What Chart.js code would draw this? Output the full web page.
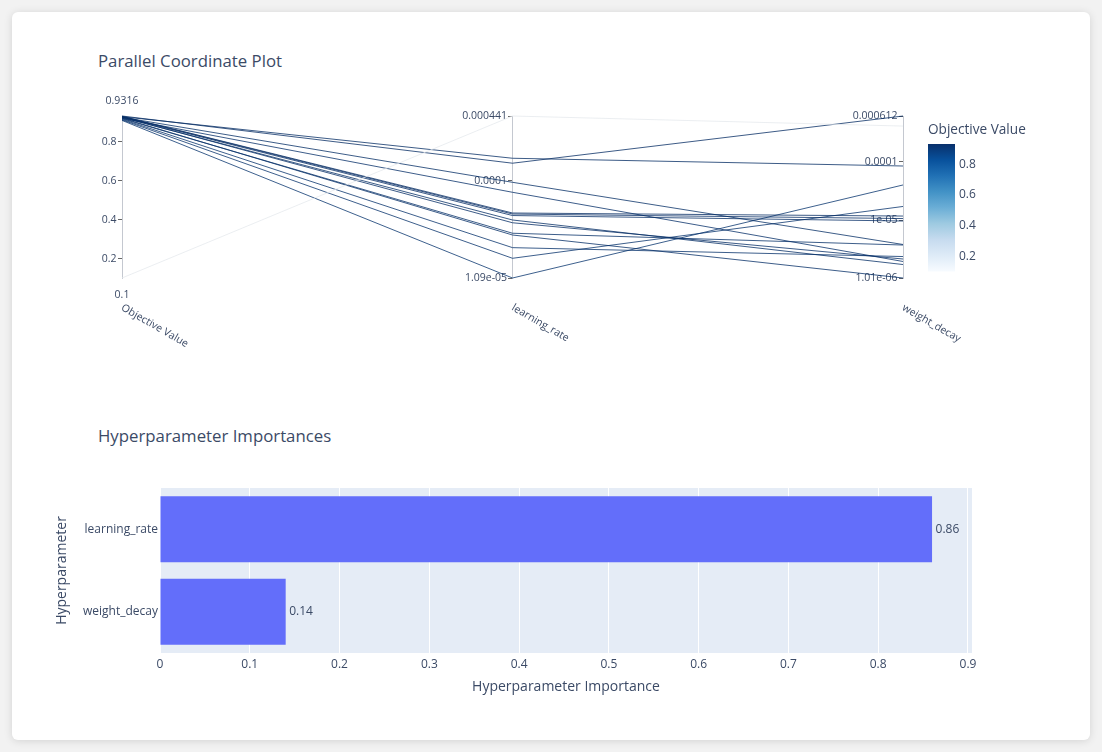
<!DOCTYPE html>
<html>
<head>
<meta charset="utf-8">
<script src="https://cdn.jsdelivr.net/npm/chart.js@4.4.0/dist/chart.umd.min.js"></script>
<style>
  body { margin: 0; background: #f2f2f2; font-family: "Open Sans", sans-serif; }
  #card { position: absolute; left: 12px; top: 12px; width: 1078px; height: 728px; background: #fff; border-radius: 6px; box-shadow: 0 1px 8px rgba(0,0,0,0.13); }
  .title { position: absolute; left: 98px; font-size: 16.8px; color: #3b4a66; line-height: 1; }
  canvas { position: absolute; left: 0; }
</style>
</head>
<body>
<div id="card"></div>
<div class="title" style="top:53px">Parallel Coordinate Plot</div>
<div class="title" style="top:428px">Hyperparameter Importances</div>
<canvas id="parallel" width="1102" height="400" style="top:0"></canvas>
<canvas id="importance" width="1102" height="352" style="top:400px"></canvas>
<script>
var dimensions = ['Objective Value', 'learning_rate', 'weight_decay'];

// one entry per trial
var objectiveValues = [0.1, 0.9316, 0.928, 0.925, 0.92, 0.930, 0.929, 0.927, 0.924, 0.926, 0.918, 0.921, 0.915, 0.912, 0.909];
var learningRates = [4.41e-4, 1.5e-4, 1.68e-4, 9.7e-5, 7.72e-5, 4.81e-5, 4.70e-5, 4.54e-5, 4.10e-5, 3.85e-5, 3.03e-5, 2.91e-5, 2.18e-5, 1.71e-5, 1.09e-5];
var weightDecays = [4.11e-4, 6.12e-4, 8.47e-5, 3.8e-6, 1.94e-6, 1.17e-5, 1.06e-5, 9.62e-6, 1.72e-6, 2.14e-6, 3.72e-6, 1.01e-6, 2.36e-6, 1.71e-5, 4.0e-5];

var objectiveTicks = [0.2, 0.4, 0.6, 0.8];
var learningRateTicks = [1.09e-5, 1e-4, 4.41e-4];
var learningRateTickLabels = ['1.09e-05', '0.0001', '0.000441'];
var weightDecayTicks = [1.01e-6, 1e-5, 1e-4, 6.12e-4];
var weightDecayTickLabels = ['1.01e-06', '1e-05', '0.0001', '0.000612'];
var colorbarTicks = [0.2, 0.4, 0.6, 0.8];

var hyperparameters = ['learning_rate', 'weight_decay'];
var importances = [0.86, 0.14];

var textColor = '#3b4a66';
Chart.defaults.font.family = '"Open Sans", sans-serif';

var blues = [[0, [247,251,255]], [0.125, [222,235,247]], [0.25, [198,219,239]], [0.375, [158,202,225]],
  [0.5, [107,174,214]], [0.625, [66,146,198]], [0.75, [33,113,181]], [0.875, [8,81,156]], [1, [8,48,107]]];

var blueAt = (t, alpha, shade) => {
    shade = shade || 1;
    for (var i = 1; i < blues.length; i++) {
        if (t <= blues[i][0]) {
            var a = blues[i - 1], b = blues[i];
            var f = (t - a[0]) / (b[0] - a[0]);
            var c = a[1].map((v, k) => Math.round((v + (b[1][k] - v) * f) * shade));
            return 'rgba(' + c.join(',') + ',' + alpha + ')';
        }
    }
    return 'rgba(8,48,107,' + alpha + ')';
};

var objMin = Math.min(...objectiveValues), objMax = Math.max(...objectiveValues);
var lrMin = Math.min(...learningRates), lrMax = Math.max(...learningRates);
var wdMin = Math.min(...weightDecays), wdMax = Math.max(...weightDecays);

// each axis is mapped onto a shared 0..1 range so the lines can live on one chart
var norm = (v, lo, hi) => (v - lo) / (hi - lo);
var logNorm = (v, lo, hi) => (Math.log10(v) - Math.log10(lo)) / (Math.log10(hi) - Math.log10(lo));

var trialSets = objectiveValues.map((obj, i) => ({
    data: [
        {x: 0, y: norm(obj, objMin, objMax)},
        {x: 1, y: logNorm(learningRates[i], lrMin, lrMax)},
        {x: 2, y: logNorm(weightDecays[i], wdMin, wdMax)}
    ],
    borderColor: blueAt(norm(obj, objMin, objMax), 0.78, 0.93),
    borderWidth: 1,
    pointRadius: 0,
    tension: 0,
    clip: 6
}));

var fixTicks = (values) => (scale) => { scale.ticks = values.map(v => ({value: v})); };
// labels of a centred axis sit right on the axis line, so pad them with spaces
var padLabel = (s) => s + '  ';

var axisOpts = (pos, extra) => Object.assign({
    axis: 'y',
    position: {x: pos},
    grid: {display: true, drawOnChartArea: false, drawTicks: true, tickLength: 4, color: '#666'},
    border: {display: true, color: '#c4c8d0'},
    ticks: {color: textColor, font: {size: 10.5}, callback: (v) => padLabel(String(v))}
}, extra);

var parallelExtras = {
    id: 'parallelExtras',
    afterDraw(chart) {
        var ctx = chart.ctx, area = chart.chartArea, xs = chart.scales.x;
        ctx.save();
        ctx.fillStyle = textColor;
        ctx.font = '10.5px "Open Sans"';
        var ox = xs.getPixelForValue(0);
        ctx.textAlign = 'center';
        ctx.textBaseline = 'middle';
        ctx.fillText(String(objMax), ox, area.top - 15);
        ctx.fillText(String(objMin), ox, area.bottom + 17);

        dimensions.forEach((name, i) => {
            ctx.save();
            ctx.translate(xs.getPixelForValue(i), area.bottom + 29);
            ctx.rotate(Math.PI / 6);
            ctx.textAlign = 'left';
            ctx.fillText(name, 0, 0);
            ctx.restore();
        });

        // colorbar
        var cbLeft = 928, cbWidth = 27, cbTop = 144, cbBottom = 271.5;
        var grad = ctx.createLinearGradient(0, cbBottom, 0, cbTop);
        blues.forEach(s => grad.addColorStop(s[0], blueAt(s[0], 1)));
        ctx.fillStyle = grad;
        ctx.fillRect(cbLeft, cbTop, cbWidth, cbBottom - cbTop);
        ctx.fillStyle = textColor;
        ctx.font = '12px "Open Sans"';
        ctx.textAlign = 'left';
        colorbarTicks.forEach(v => {
            var y = cbBottom - norm(v, objMin, objMax) * (cbBottom - cbTop);
            ctx.fillText(String(v), cbLeft + cbWidth + 4, y);
        });
        ctx.font = '13.6px "Open Sans"';
        ctx.fillText('Objective Value', cbLeft, 130);
        ctx.restore();
    }
};

new Chart(document.getElementById('parallel'), {
    type: 'line',
    data: {datasets: trialSets},
    options: {
        responsive: false,
        animation: false,
        layout: {padding: {left: 122, right: 199, top: 116, bottom: 122}},
        plugins: {legend: {display: false}, tooltip: {enabled: false}},
        scales: {
            x: {type: 'linear', min: 0, max: 2, display: false},
            y: {min: 0, max: 1, display: false},
            objAxis: axisOpts(0, {type: 'linear', min: objMin, max: objMax, afterBuildTicks: fixTicks(objectiveTicks)}),
            lrAxis: axisOpts(1, {type: 'logarithmic', min: lrMin, max: lrMax, afterBuildTicks: fixTicks(learningRateTicks),
                ticks: {color: textColor, font: {size: 10.5}, callback: (v, i) => padLabel(learningRateTickLabels[i])}}),
            wdAxis: axisOpts(2, {type: 'logarithmic', min: wdMin, max: wdMax, afterBuildTicks: fixTicks(weightDecayTicks),
                ticks: {color: textColor, font: {size: 10.5}, callback: (v, i) => padLabel(weightDecayTickLabels[i])}})
        }
    },
    plugins: [parallelExtras]
});

var plotBackground = {
    id: 'plotBackground',
    beforeDraw(chart) {
        var a = chart.chartArea;
        chart.ctx.save();
        chart.ctx.fillStyle = '#e5ecf6';
        chart.ctx.fillRect(a.left, a.top, a.right - a.left, a.bottom - a.top);
        chart.ctx.restore();
    }
};

var barLabels = {
    id: 'barLabels',
    afterDatasetsDraw(chart) {
        var ctx = chart.ctx;
        ctx.save();
        ctx.fillStyle = textColor;
        ctx.font = '12px "Open Sans"';
        ctx.textBaseline = 'middle';
        chart.getDatasetMeta(0).data.forEach((bar, i) => {
            ctx.fillText(String(importances[i]), bar.x + 3.5, bar.y);
        });
        ctx.restore();
    }
};

new Chart(document.getElementById('importance'), {
    type: 'bar',
    data: {
        labels: hyperparameters,
        datasets: [{data: importances, backgroundColor: '#636efa', barPercentage: 0.8, categoryPercentage: 1}]
    },
    options: {
        indexAxis: 'y',
        responsive: false,
        animation: false,
        layout: {padding: {left: 54, right: 130, top: 88, bottom: 57}},
        plugins: {legend: {display: false}, tooltip: {enabled: false}},
        scales: {
            x: {
                min: 0, max: 0.9045,
                ticks: {stepSize: 0.1, includeBounds: false, color: textColor, font: {size: 12}, padding: 4},
                grid: {color: '#ffffff', drawTicks: false},
                border: {display: false},
                title: {display: true, text: 'Hyperparameter Importance', color: textColor, font: {size: 14}, padding: 0},
                afterFit: (s) => { s.height = 42; }
            },
            y: {
                grid: {display: false, drawTicks: false},
                border: {display: false},
                ticks: {color: textColor, font: {size: 12}, padding: 2},
                title: {display: true, text: 'Hyperparameter', color: textColor, font: {size: 14}, padding: 0},
                afterFit: (s) => { s.width = 106; }
            }
        }
    },
    plugins: [plotBackground, barLabels]
});
</script>
</body>
</html>
